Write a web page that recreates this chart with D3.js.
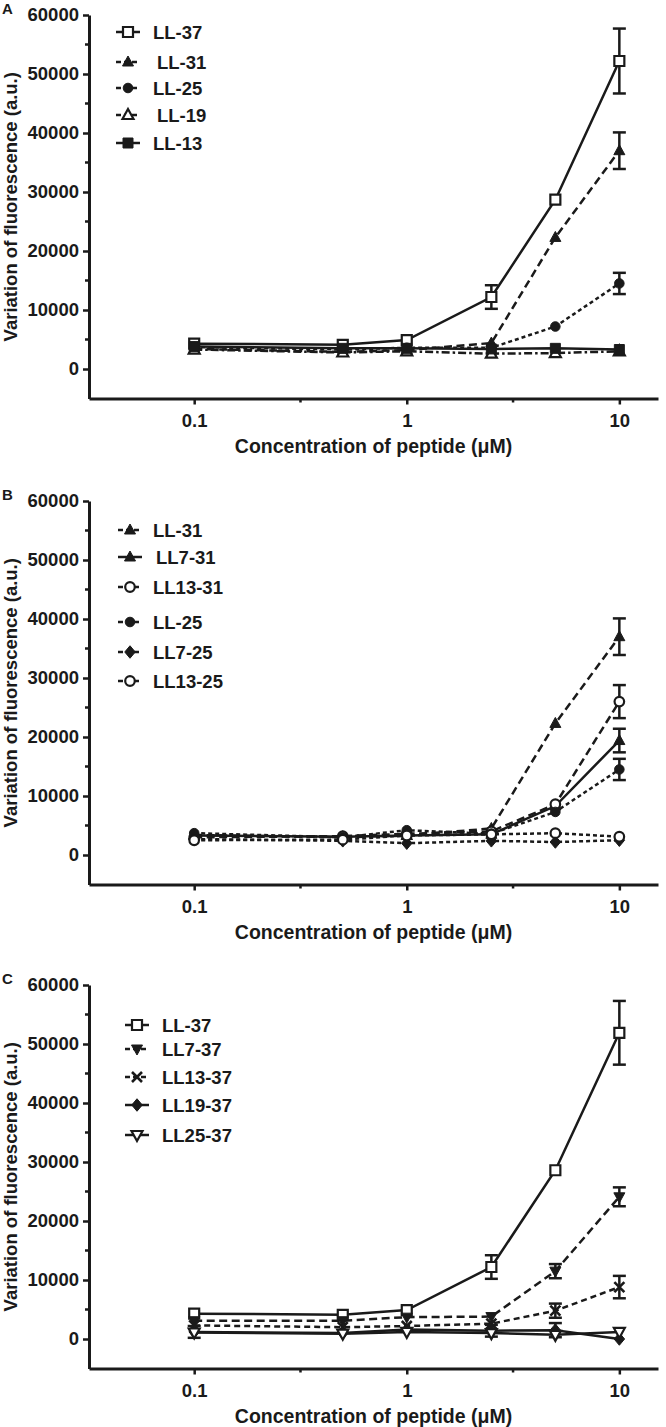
<!DOCTYPE html>
<html>
<head>
<meta charset="utf-8">
<script src="https://cdn.jsdelivr.net/npm/d3@7"></script>
<style>
  html, body { margin: 0; padding: 0; background: #fff; }
  svg { display: block; }
  text { font-family: "Liberation Sans", Arial, sans-serif; font-weight: bold; fill: #1a1a1a; }
</style>
</head>
<body>
<svg id="chart" width="666" height="1427"></svg>
<script>
// ---------------- DATA ----------------
const concentrations = [0.1, 0.5, 1, 2.5, 5, 10];
const xTickValues = [0.1, 1, 10];
const xTickLabels = ["0.1", "1", "10"];
const yTickValues = [0, 10000, 20000, 30000, 40000, 50000, 60000];
const panelLetters = ["A", "B", "C"];
const xTitle = "Concentration of peptide (\u03bcM)";
const yTitle = "Variation of fluorescence (a.u.)";

// Panel A
const A_names = ["LL-37", "LL-31", "LL-25", "LL-19", "LL-13"];
const A_LL37 = [4300, 4100, 4900, 12200, 28700, 52200];
const A_LL37_err = [300, 300, 400, 2000, 700, 5500];
const A_LL31 = [3400, 2900, 3200, 4400, 22300, 37000];
const A_LL31_err = [200, 200, 200, 300, 500, 3100];
const A_LL25 = [3700, 3300, 3600, 3600, 7200, 14500];
const A_LL25_err = [200, 200, 200, 300, 700, 1800];
const A_LL19 = [3300, 2800, 3000, 2600, 2700, 3000];
const A_LL19_err = [200, 200, 200, 300, 300, 200];
const A_LL13 = [3800, 3500, 3500, 3400, 3500, 3300];
const A_LL13_err = [200, 200, 200, 200, 200, 200];

// Panel B
const B_names = ["LL-31", "LL7-31", "LL13-31", "LL-25", "LL7-25", "LL13-25"];
const B_LL31 = [3400, 3000, 3300, 4500, 22300, 37000];
const B_LL31_err = [200, 200, 200, 300, 500, 3100];
const B_LL7_31 = [3300, 3100, 3300, 3500, 8300, 19400];
const B_LL7_31_err = [200, 200, 200, 300, 700, 2000];
const B_LL13_31 = [3000, 3200, 3600, 4000, 8600, 26000];
const B_LL13_31_err = [200, 200, 200, 300, 800, 2800];
const B_LL25 = [3700, 3000, 4200, 3600, 7300, 14500];
const B_LL25_err = [200, 200, 200, 300, 600, 1800];
const B_LL7_25 = [2700, 2400, 2000, 2400, 2200, 2500];
const B_LL7_25_err = [200, 200, 200, 200, 200, 200];
const B_LL13_25 = [2500, 2600, 3300, 3500, 3700, 3100];
const B_LL13_25_err = [200, 200, 200, 200, 200, 200];

// Panel C
const C_names = ["LL-37", "LL7-37", "LL13-37", "LL19-37", "LL25-37"];
const C_LL37 = [4300, 4100, 4900, 12200, 28600, 51900];
const C_LL37_err = [300, 300, 400, 2000, 800, 5400];
const C_LL7_37 = [3100, 3100, 3700, 3800, 11500, 24100];
const C_LL7_37_err = [300, 300, 300, 400, 1200, 1600];
const C_LL13_37 = [2300, 2000, 2200, 2600, 4800, 8800];
const C_LL13_37_err = [300, 300, 300, 500, 1200, 1900];
const C_LL19_37 = [1200, 1000, 1600, 1400, 1500, 0];
const C_LL19_37_err = [1000, 600, 800, 1000, 1200, 300];
const C_LL25_37 = [1100, 900, 1200, 1000, 700, 1200];
const C_LL25_37_err = [300, 300, 300, 300, 300, 300];

// ---------------- STYLES / LAYOUT ----------------
const INK = "#1a1a1a";
const DASH_LONG = "8,4.5";
const DASH_MED = "6,4";
const DASH_SHORT = "4,3";
const DASH_DOT = "8,3,2.5,3";

const panels = [
  {
    top: 15, legendY: [32, 62, 88, 115, 143], legendX: 128, legendTextX: [153, 157, 153, 157, 153],
    series: [
      { name: A_names[0], v: A_LL37, e: A_LL37_err, marker: "sqOpen", dash: null },
      { name: A_names[1], v: A_LL31, e: A_LL31_err, marker: "triFill", dash: DASH_LONG },
      { name: A_names[2], v: A_LL25, e: A_LL25_err, marker: "circFill", dash: DASH_SHORT },
      { name: A_names[3], v: A_LL19, e: A_LL19_err, marker: "triOpen", dash: DASH_DOT },
      { name: A_names[4], v: A_LL13, e: A_LL13_err, marker: "sqFill", dash: null }
    ]
  },
  {
    top: 501, legendY: [530, 557, 587, 622, 652, 681], legendX: 130, legendTextX: [153, 156, 153, 153, 153, 153],
    series: [
      { name: B_names[0], v: B_LL31, e: B_LL31_err, marker: "triFill", dash: DASH_LONG },
      { name: B_names[1], v: B_LL7_31, e: B_LL7_31_err, marker: "triFill", dash: null },
      { name: B_names[2], v: B_LL13_31, e: B_LL13_31_err, marker: "circOpen", dash: DASH_LONG },
      { name: B_names[3], v: B_LL25, e: B_LL25_err, marker: "circFill", dash: DASH_SHORT },
      { name: B_names[4], v: B_LL7_25, e: B_LL7_25_err, marker: "diaFill", dash: DASH_SHORT },
      { name: B_names[5], v: B_LL13_25, e: B_LL13_25_err, marker: "circOpen", dash: DASH_SHORT }
    ]
  },
  {
    top: 985, legendY: [1025, 1049, 1077, 1105, 1135], legendX: 137, legendTextX: [162, 162, 162, 162, 162],
    series: [
      { name: C_names[0], v: C_LL37, e: C_LL37_err, marker: "sqOpen", dash: null },
      { name: C_names[1], v: C_LL7_37, e: C_LL7_37_err, marker: "triDownFill", dash: DASH_LONG },
      { name: C_names[2], v: C_LL13_37, e: C_LL13_37_err, marker: "xMark", dash: DASH_MED },
      { name: C_names[3], v: C_LL19_37, e: C_LL19_37_err, marker: "diaFill", dash: null },
      { name: C_names[4], v: C_LL25_37, e: C_LL25_37_err, marker: "triDownOpen", dash: null }
    ]
  }
];

const H60 = 354;                 // pixel height from 0 to 60000
const plotLeft = 89, plotRight = 658;

function markerPath(type) {
  const s = 5;
  switch (type) {
    case "sqOpen": case "sqFill":
      return `M${-s},${-s}H${s}V${s}H${-s}Z`;
    case "triFill": case "triOpen":
      return `M0,${-s * 1.2}L${s * 1.1},${s * 0.8}L${-s * 1.1},${s * 0.8}Z`;
    case "triDownFill": case "triDownOpen":
      return `M0,${s * 1.2}L${s * 1.1},${-s * 0.8}L${-s * 1.1},${-s * 0.8}Z`;
    case "diaFill":
      return `M0,${-s * 1.25}L${s * 1.05},0L0,${s * 1.25}L${-s * 1.05},0Z`;
    case "xMark":
      return `M${-s},${-s}L${s},${s}M${s},${-s}L${-s},${s}`;
    case "circFill": case "circOpen":
      return d3.symbol(d3.symbolCircle, 72)();
  }
}
function styleMarker(sel, type) {
  const open = /Open/.test(type);
  if (type === "xMark") {
    sel.attr("fill", "none").attr("stroke", INK).attr("stroke-width", 2.6);
  } else if (open) {
    sel.attr("fill", "#fff").attr("stroke", INK).attr("stroke-width", 2.2);
  } else {
    sel.attr("fill", INK).attr("stroke", INK).attr("stroke-width", 1);
  }
}

const svg = d3.select("#chart");

panels.forEach((p, pi) => {
  const y = d3.scaleLinear().domain([-5000, 60000]).range([p.top + H60 * 65 / 60, p.top]);
  const x = d3.scaleLog().domain([0.032, 15.2]).range([plotLeft, plotRight]);
  const g = svg.append("g");
  const yBottom = y(-5000);

  // panel letter
  g.append("text").attr("x", 2).attr("y", p.top - 1).attr("font-size", 15).text(panelLetters[pi]);

  // y axis
  const yAxis = d3.axisLeft(y).tickValues(yTickValues).tickFormat(d3.format("d"))
    .tickSize(6).tickSizeOuter(0).tickPadding(4);
  const ya = g.append("g").attr("transform", `translate(${plotLeft},0)`).call(yAxis);
  ya.select(".domain").attr("stroke", INK).attr("stroke-width", 3);
  ya.selectAll(".tick line").attr("stroke", INK).attr("stroke-width", 2.5);
  ya.selectAll(".tick text").attr("font-size", 18.5).attr("font-family", "Liberation Sans, Arial, sans-serif")
    .attr("font-weight", "bold").attr("fill", INK);
  // minor y ticks
  g.selectAll(".ymin").data([5000, 15000, 25000, 35000, 45000, 55000]).join("line")
    .attr("x1", plotLeft).attr("x2", plotLeft - 4)
    .attr("y1", d => y(d)).attr("y2", d => y(d))
    .attr("stroke", INK).attr("stroke-width", 2.5);

  // x axis
  const xAxis = d3.axisBottom(x).tickValues(xTickValues).tickFormat((d, i) => xTickLabels[i])
    .tickSize(6).tickSizeOuter(0).tickPadding(9);
  const xa = g.append("g").attr("transform", `translate(0,${yBottom})`).call(xAxis);
  xa.select(".domain").attr("stroke", INK).attr("stroke-width", 3);
  xa.selectAll(".tick line").attr("stroke", INK).attr("stroke-width", 2.5);
  xa.selectAll(".tick text").attr("font-size", 18.5).attr("font-family", "Liberation Sans, Arial, sans-serif")
    .attr("font-weight", "bold").attr("fill", INK);
  g.selectAll(".xmin").data([Math.pow(10, -0.5), Math.pow(10, 0.5)]).join("line")
    .attr("x1", d => x(d)).attr("x2", d => x(d))
    .attr("y1", yBottom).attr("y2", yBottom + 4)
    .attr("stroke", INK).attr("stroke-width", 2.5);

  // axis titles
  g.append("text").attr("text-anchor", "middle").attr("font-size", 19.5)
    .attr("x", (plotLeft + plotRight) / 2).attr("y", yBottom + 54).text(xTitle);
  g.append("text").attr("text-anchor", "middle").attr("font-size", 18.5)
    .attr("transform", `translate(17,${(p.top + yBottom) / 2}) rotate(-90)`).text(yTitle);

  // series
  const line = d3.line().x(d => x(d.c)).y(d => y(d.v));
  p.series.forEach(s => {
    const pts = concentrations.map((c, i) => ({ c, v: s.v[i], e: s.e[i] }));
    const sg = g.append("g");
    sg.append("path").datum(pts).attr("d", line).attr("fill", "none")
      .attr("stroke", INK).attr("stroke-width", 2.5)
      .attr("stroke-dasharray", s.dash);
    // error bars
    const eb = sg.selectAll(".eb").data(pts).join("g");
    eb.append("line").attr("x1", d => x(d.c)).attr("x2", d => x(d.c))
      .attr("y1", d => y(d.v - d.e)).attr("y2", d => y(d.v + d.e))
      .attr("stroke", INK).attr("stroke-width", 2.5);
    [1, -1].forEach(sign => {
      eb.filter(d => d.e >= 900).append("line")
        .attr("x1", d => x(d.c) - 6.5).attr("x2", d => x(d.c) + 6.5)
        .attr("y1", d => y(d.v + sign * d.e)).attr("y2", d => y(d.v + sign * d.e))
        .attr("stroke", INK).attr("stroke-width", 2.5);
    });
    const mk = sg.selectAll(".mk").data(pts).join("path")
      .attr("d", markerPath(s.marker))
      .attr("transform", d => `translate(${x(d.c)},${y(d.v)})`);
    styleMarker(mk, s.marker);
  });

  // legend
  p.series.forEach((s, i) => {
    const ly = p.legendY[i], lx = p.legendX;
    const lg = g.append("g");
    lg.append("line").attr("x1", lx - 12).attr("x2", lx + 12).attr("y1", ly).attr("y2", ly)
      .attr("stroke", INK).attr("stroke-width", 2.5).attr("stroke-dasharray", s.dash ? "5,3" : null);
    const m = lg.append("path").attr("d", markerPath(s.marker)).attr("transform", `translate(${lx},${ly})`);
    styleMarker(m, s.marker);
    lg.append("text").attr("x", p.legendTextX[i]).attr("y", ly).attr("dy", "0.36em")
      .attr("font-size", 18.5).text(s.name);
  });
});
</script>
</body>
</html>
